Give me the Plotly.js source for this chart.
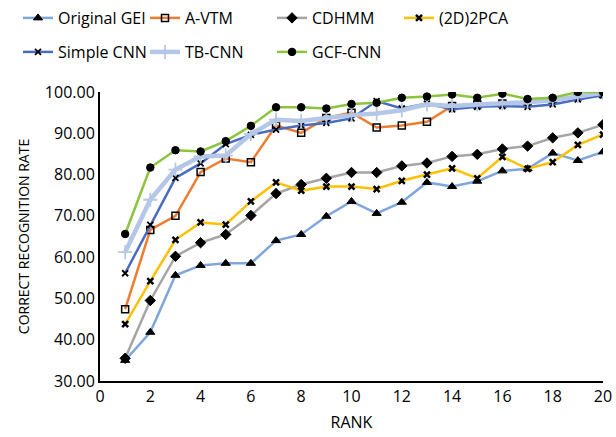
<!DOCTYPE html>
<html><head><meta charset="utf-8">
<script src="https://cdn.plot.ly/plotly-3.0.1.min.js"></script>
<style>body{margin:0;background:#fff}#c{width:616px;height:437px}</style>
</head><body><div id="c"></div>
<script>
const ranks = [1,2,3,4,5,6,7,8,9,10,11,12,13,14,15,16,17,18,19,20];
const originalGEI = [35.0,41.8,55.6,58.0,58.5,58.5,64.0,65.5,69.9,73.5,70.6,73.3,78.1,77.1,78.4,80.9,81.4,85.2,83.4,85.5];
const aVTM = [47.4,66.6,70.0,80.6,83.9,83.0,91.9,90.1,93.7,95.0,91.4,91.9,92.8,96.6,97.0,97.2,97.5,98.0,99.0,99.5];
const cdhmm = [35.5,49.5,60.2,63.5,65.5,70.1,75.4,77.6,79.1,80.5,80.5,82.1,82.8,84.4,84.9,86.2,86.9,88.9,90.1,92.1];
const pca2d = [43.8,54.2,64.2,68.4,67.9,73.5,78.1,76.1,77.1,77.1,76.5,78.5,80.0,81.5,79.1,84.3,81.4,83.0,87.2,89.7];
const simpleCNN = [56.1,67.8,79.2,82.7,87.4,89.6,90.9,91.9,92.5,93.6,97.8,96.0,97.2,95.8,96.4,96.6,96.4,97.0,98.2,99.2];
const tbCNN = [61.2,73.9,81.2,84.4,84.6,89.8,93.3,93.0,93.7,94.4,94.8,95.6,97.0,96.6,97.0,97.2,97.5,98.0,99.0,99.8];
const gcfCNN = [65.6,81.7,85.9,85.6,88.1,91.8,96.3,96.3,96.0,97.1,97.4,98.6,98.9,99.4,98.6,99.6,98.3,98.6,100.0,100.0];
const seriesNames = ['Original GEI','A-VTM','CDHMM','(2D)2PCA','Simple CNN','TB-CNN','GCF-CNN'];

const styles = [
  {color:'#7FA7DC', width:2.5, sym:'triangle-up', msize:8, mcol:'#000', lg:'legend'},
  {color:'#ED7D31', width:2.5, sym:'square-open', msize:7, mcol:'#000', mlw:1.5, lg:'legend'},
  {color:'#A5A5A5', width:2.5, sym:'diamond', msize:8, mcol:'#000', lg:'legend'},
  {color:'#FFC000', width:2.5, sym:'x-thin-open', msize:6, mcol:'#000', mlw:2.5, lg:'legend'},
  {color:'#4A6CC0', width:2.5, sym:'x-thin-open', msize:6, mcol:'#000', mlw:1.8, lg:'legend2'},
  {color:'#B4C7E7', width:4.5, sym:'cross-thin-open', msize:10, mcol:'#B4C7E7', mlw:1.8, lg:'legend2'},
  {color:'#8CC43E', width:2.5, sym:'circle', msize:7.5, mcol:'#000', lg:'legend2'}
];
const data = [originalGEI,aVTM,cdhmm,pca2d,simpleCNN,tbCNN,gcfCNN];
const traces = data.map((ys,i)=>({
  x: ranks, y: ys, name: seriesNames[i], type:'scatter', mode:'lines+markers',
  legend: styles[i].lg,
  line:{color:styles[i].color, width:styles[i].width},
  marker:{symbol:styles[i].sym, size:styles[i].msize, color:styles[i].mcol,
          line:{color:styles[i].mcol, width:styles[i].mlw||1}}
}));
const plotW = 503, plotH = 289, plotTop = 92, plotLeft = 100;
const legBase = {orientation:'h', xref:'paper', yref:'paper', x:(18-plotLeft)/plotW, xanchor:'left',
  yanchor:'middle', entrywidth:82, entrywidthmode:'pixels', font:{size:16, color:'#000'},
  traceorder:'normal', bgcolor:'rgba(0,0,0,0)'};
const layout = {
  width:616, height:437,
  margin:{l:100, r:13, t:92, b:56, autoexpand:false},
  paper_bgcolor:'#fff', plot_bgcolor:'#fff',
  font:{family:'"Open Sans", "Noto Sans", sans-serif', size:15, color:'#000'},
  showlegend:true,
  legend:Object.assign({}, legBase, {y:(plotTop+plotH-18)/plotH}),
  legend2:Object.assign({}, legBase, {y:(plotTop+plotH-52)/plotH}),
  xaxis:{range:[0,20], dtick:2, tick0:0, showgrid:false, zeroline:false, showline:true,
         linecolor:'#000', linewidth:2, ticks:'', tickfont:{size:16, color:'#000'},
         title:{text:'RANK', font:{size:16, color:'#000'}, standoff:11}},
  yaxis:{range:[30,100], dtick:10, showgrid:false, zeroline:false, showline:true,
         linecolor:'#000', linewidth:2, ticks:'', tickformat:'.2f', tickfont:{size:16, color:'#000'},
         title:{text:'CORRECT RECOGNITION RATE', font:{size:14, color:'#000'}, standoff:12}}
};
Plotly.newPlot('c', traces, layout, {displayModeBar:false, staticPlot:true});
</script></body></html>
